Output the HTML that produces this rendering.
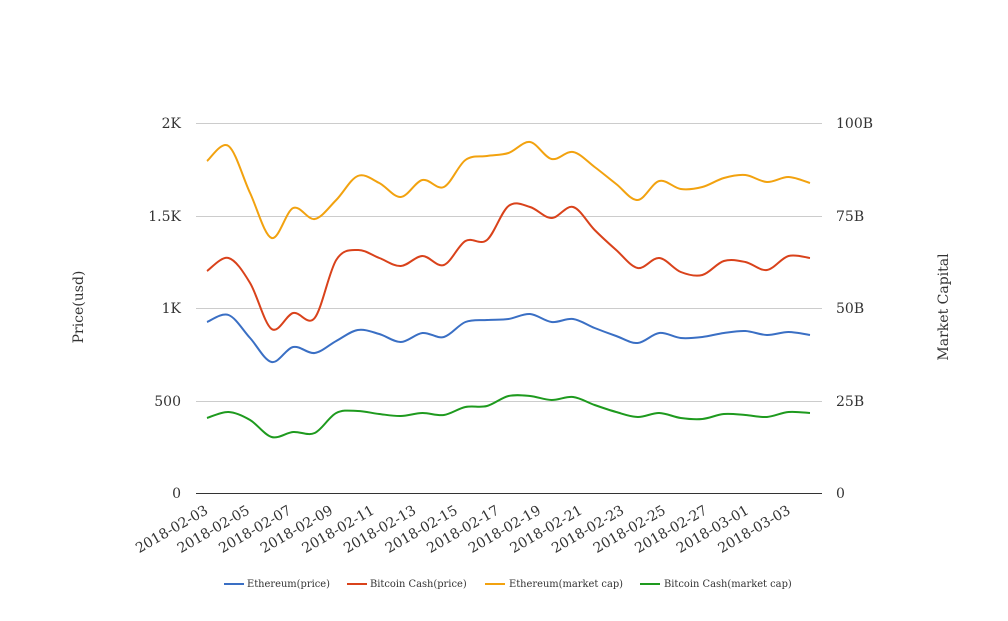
<!DOCTYPE html>
<html><head><style>
body{margin:0;background:#fff}
svg text{font-family:"DejaVu Serif","Liberation Serif",serif;fill:#333}
</style></head><body>
<svg id="s" width="1008" height="616" xmlns="http://www.w3.org/2000/svg">
<g stroke="#ccc" stroke-width="1">
<line x1="196" x2="822" y1="123.5" y2="123.5"/>
<line x1="196" x2="822" y1="216.5" y2="216.5"/>
<line x1="196" x2="822" y1="308.5" y2="308.5"/>
<line x1="196" x2="822" y1="401.5" y2="401.5"/>
</g>
<line x1="196" x2="822" y1="493.5" y2="493.5" stroke="#333"/>
<g font-size="14" text-anchor="end">
<text x="181" y="128">2K</text><text x="181" y="221">1.5K</text><text x="181" y="313">1K</text><text x="181" y="406">500</text><text x="181" y="498">0</text>
</g>
<g font-size="14">
<text x="836" y="128">100B</text><text x="836" y="221">75B</text><text x="836" y="313">50B</text><text x="836" y="406">25B</text><text x="836" y="498">0</text>
</g>
<text font-size="14" transform="translate(83,307) rotate(-90)" text-anchor="middle">Price(usd)</text>
<text font-size="14" transform="translate(948,307) rotate(-90)" text-anchor="middle">Market Capital</text>
<g id="xl" font-size="14" text-anchor="end"></g>
<g id="lines" fill="none" stroke-width="2"></g>
<g font-size="9.9">
<line x1="224" x2="244" y1="584" y2="584" stroke="#3a6fc4" stroke-width="2"/><text x="247" y="587">Ethereum(price)</text>
<line x1="347" x2="367" y1="584" y2="584" stroke="#d9421b" stroke-width="2"/><text x="370" y="587">Bitcoin Cash(price)</text>
<line x1="485" x2="505" y1="584" y2="584" stroke="#f2a20f" stroke-width="2"/><text x="509" y="587">Ethereum(market cap)</text>
<line x1="640" x2="660" y1="584" y2="584" stroke="#1e9a1e" stroke-width="2"/><text x="664" y="587">Bitcoin Cash(market cap)</text>
</g>
</svg>
<script>
var ns="http://www.w3.org/2000/svg";
var X=i=>207+i*(603/28);
var data=[
["#f2a20f",[161,146,193,238,208,219,200,176,183,197,180,187,160,156,153,142,159,152,167,184,200,181,189,187,178,175,182,177,183]],
["#d9421b",[271,258,283,329,313,318,260,250,258,266,256,265,241,240,206,207,218,207,230,250,268,258,272,275,261,262,270,256,258]],
["#3a6fc4",[322,315,338,362,347,353,341,330,334,342,333,337,322,320,319,314,322,319,328,336,343,333,338,337,333,331,335,332,335]],
["#1e9a1e",[418,412,420,437,432,433,413,411,414,416,413,415,407,406,396,396,400,397,405,412,417,413,418,419,414,415,417,412,413]]];
var g=document.getElementById("lines");
data.forEach(function(s){var y=s[1],n=y.length,d="M"+X(0)+","+y[0];
for(var i=0;i<n-1;i++){var p0=i?i-1:0,p3=i+2<n?i+2:n-1;
var c1x=X(i)+(X(i+1)-X(p0))/6,c1y=y[i]+(y[i+1]-y[p0])/6,c2x=X(i+1)-(X(p3)-X(i))/6,c2y=y[i+1]-(y[p3]-y[i])/6;
d+=" C"+c1x+","+c1y+" "+c2x+","+c2y+" "+X(i+1)+","+y[i+1];}
var p=document.createElementNS(ns,"path");p.setAttribute("d",d);p.setAttribute("stroke",s[0]);g.appendChild(p);});
var xl=document.getElementById("xl");
var lab=["2018-02-03","2018-02-05","2018-02-07","2018-02-09","2018-02-11","2018-02-13","2018-02-15","2018-02-17","2018-02-19","2018-02-21","2018-02-23","2018-02-25","2018-02-27","2018-03-01","2018-03-03"];
lab.forEach(function(t,k){var x=209+41.6*k,t2=document.createElementNS(ns,"text");
t2.setAttribute("transform","translate("+x+",513) rotate(-30)");t2.textContent=t;xl.appendChild(t2);});
</script>
</body></html>
